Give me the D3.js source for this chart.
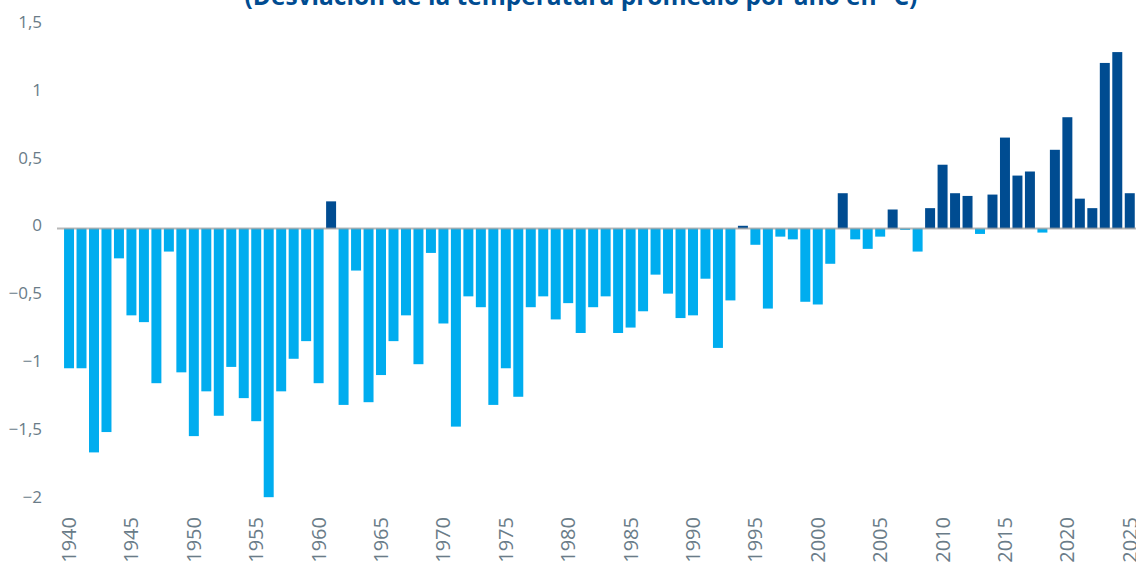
<!DOCTYPE html>
<html>
<head>
<meta charset="utf-8">
<script src="https://cdn.jsdelivr.net/npm/d3@7"></script>
<style>
  html, body { margin: 0; padding: 0; background: #ffffff; }
  svg { display: block; }
</style>
</head>
<body>
<svg id="chart" width="1136" height="562"></svg>
<script>
const title = "(Desviación de la temperatura promedio por año en °C)";

const years = [
  1940, 1941, 1942, 1943, 1944, 1945, 1946, 1947, 1948, 1949,
  1950, 1951, 1952, 1953, 1954, 1955, 1956, 1957, 1958, 1959,
  1960, 1961, 1962, 1963, 1964, 1965, 1966, 1967, 1968, 1969,
  1970, 1971, 1972, 1973, 1974, 1975, 1976, 1977, 1978, 1979,
  1980, 1981, 1982, 1983, 1984, 1985, 1986, 1987, 1988, 1989,
  1990, 1991, 1992, 1993, 1994, 1995, 1996, 1997, 1998, 1999,
  2000, 2001, 2002, 2003, 2004, 2005, 2006, 2007, 2008, 2009,
  2010, 2011, 2012, 2013, 2014, 2015, 2016, 2017, 2018, 2019,
  2020, 2021, 2022, 2023, 2024, 2025
];

const deviation = [
  -1.03, -1.03, -1.65, -1.50, -0.22, -0.64, -0.69, -1.14, -0.17, -1.06,
  -1.53, -1.20, -1.38, -1.02, -1.25, -1.42, -1.98, -1.20, -0.96, -0.83,
  -1.14,  0.20, -1.30, -0.31, -1.28, -1.08, -0.83, -0.64, -1.00, -0.18,
  -0.70, -1.46, -0.50, -0.58, -1.30, -1.03, -1.24, -0.58, -0.50, -0.67,
  -0.55, -0.77, -0.58, -0.50, -0.77, -0.73, -0.61, -0.34, -0.48, -0.66,
  -0.64, -0.37, -0.88, -0.53,  0.02, -0.12, -0.59, -0.06, -0.08, -0.54,
  -0.56, -0.26,  0.26, -0.08, -0.15, -0.06,  0.14, -0.01, -0.17,  0.15,
   0.47,  0.26,  0.24, -0.04,  0.25,  0.67,  0.39,  0.42, -0.03,  0.58,
   0.82,  0.22,  0.15,  1.22,  1.30,  0.26
];

const yTicks = [-2, -1.5, -1, -0.5, 0, 0.5, 1, 1.5];
const xTickYears = [1940, 1945, 1950, 1955, 1960, 1965, 1970, 1975, 1980, 1985,
                    1990, 1995, 2000, 2005, 2010, 2015, 2020, 2025];

const colorPos = "#004c91";
const colorNeg = "#00adef";
const labelColor = "#6a7c88";
const fontFamily = "'Open Sans', 'Noto Sans', sans-serif";

const svg = d3.select("#chart");

const x = d3.scaleBand()
  .domain(years)
  .range([62.8, 1136])
  .paddingInner(0.2)
  .paddingOuter(0.1);

const y = d3.scaleLinear()
  .domain([-2, 1.5])
  .range([499.9, 24.95]);

const locale = d3.formatLocale({ decimal: ",", thousands: ".", grouping: [3], currency: ["", "€"] });
const fmt = v => locale.format("")(v);

// Title (partially cut off at top, as in the original)
svg.append("text")
  .attr("x", 581)
  .attr("y", 5)
  .attr("text-anchor", "middle")
  .attr("font-family", fontFamily)
  .attr("font-weight", 700)
  .attr("font-size", 24.5)
  .attr("fill", "#004c91")
  .text(title);

// Y axis labels
const yAxis = d3.axisLeft(y).tickValues(yTicks).tickFormat(fmt).tickSize(0).tickPadding(0);
const gy = svg.append("g").attr("transform", "translate(42,-3)").call(yAxis);
gy.select(".domain").remove();
gy.selectAll("text")
  .attr("font-family", fontFamily)
  .attr("font-size", 17)
  .attr("fill", labelColor);

// Bars
const data = years.map((yr, i) => ({ year: yr, value: deviation[i] }));
svg.append("g")
  .selectAll("rect")
  .data(data)
  .join("rect")
  .attr("x", d => x(d.year))
  .attr("width", x.bandwidth())
  .attr("y", d => Math.min(y(d.value), y(0)))
  .attr("height", d => Math.abs(y(d.value) - y(0)))
  .attr("fill", d => d.value >= 0 ? colorPos : colorNeg);

// Zero line
svg.append("line")
  .attr("x1", 57).attr("x2", 1136)
  .attr("y1", y(0)).attr("y2", y(0))
  .attr("stroke", "#9a9a9a")
  .attr("stroke-opacity", 0.7)
  .attr("stroke-width", 2);

// X axis labels (rotated)
const xAxis = d3.axisBottom(x).tickValues(xTickYears).tickSize(0).tickPadding(0);
const gx = svg.append("g").attr("transform", "translate(0,517)").call(xAxis);
gx.select(".domain").remove();
gx.selectAll("text")
  .attr("font-family", fontFamily)
  .attr("font-size", 20)
  .attr("fill", labelColor)
  .attr("text-anchor", "end")
  .attr("transform", "rotate(-90)")
  .attr("x", 0)
  .attr("y", 0)
  .attr("dy", "0.35em");
</script>
</body>
</html>
